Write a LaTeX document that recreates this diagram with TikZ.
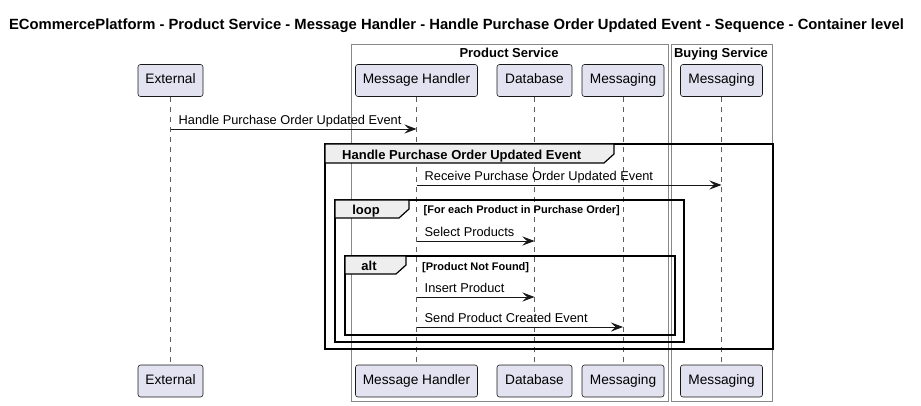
\documentclass[tikz,border=0pt]{standalone}
\usepackage{fontspec}
\setmainfont{Liberation Sans}
\usetikzlibrary{arrows.meta}
\definecolor{partfill}{HTML}{E2E2F0}
\definecolor{partline}{HTML}{181818}
\definecolor{tabfill}{HTML}{EEEEEE}
\definecolor{boxline}{HTML}{888888}
\tikzset{
  part/.style={draw=partline, fill=partfill, line width=0.6pt, rounded corners=2.5pt,
    minimum height=32pt, inner sep=0pt, text height=10pt, text depth=3pt,
    font=\fontsize{13.7}{16}\selectfont},
  life/.style={draw=partline!70, line width=0.6pt, dash pattern=on 5pt off 5pt},
  msg/.style={draw=partline, line width=0.9pt, -{Stealth[length=12pt,width=9pt,inset=4.5pt]}},
  msgtext/.style={anchor=base west, inner sep=0pt, font=\fontsize{12.8}{15}\selectfont},
  frame/.style={draw=black, line width=1.6pt},
  tab/.style={draw=black, line width=1.2pt, fill=tabfill},
  tabtext/.style={inner sep=0pt, anchor=base, font=\bfseries\fontsize{13}{15}\selectfont},
  cond/.style={inner sep=0pt, anchor=base west, font=\bfseries\fontsize{11}{13}\selectfont},
  svcbox/.style={draw=boxline, line width=0.8pt},
  svctext/.style={inner sep=0pt, anchor=base, font=\bfseries\fontsize{13}{15}\selectfont},
}
\begin{document}
\begin{tikzpicture}[x=1pt,y=-1pt]
\useasboundingbox (0,0) rectangle (921,406);
% title
\node[inner sep=0pt, anchor=base, font=\bfseries\fontsize{14.8}{17}\selectfont] (title) at (456.5,30)
  {ECommercePlatform - Product Service - Message Handler - Handle Purchase Order Updated Event - Sequence - Container level};
% service boxes
\draw[svcbox] (351,44) rectangle (668.5,401);
\draw[svcbox] (671,44) rectangle (772.5,401);
\node[svctext] (ps) at (509,58) {Product Service};
\node[svctext] (bs) at (721,58) {Buying Service};
% participants top
\node[part, minimum width=65pt] (ext) at (170.5,80.5) {External};
\node[part, minimum width=122pt] (mh) at (416.5,80.5) {Message Handler};
\node[part, minimum width=75pt] (db) at (534.5,80.5) {Database};
\node[part, minimum width=82pt] (pm) at (623,80.5) {Messaging};
\node[part, minimum width=82pt] (bm) at (721.5,80.5) {Messaging};
% participants bottom
\node[part, minimum width=65pt] (extb) at (170.5,381) {External};
\node[part, minimum width=122pt] (mhb) at (416.5,381) {Message Handler};
\node[part, minimum width=75pt] (dbb) at (534.5,381) {Database};
\node[part, minimum width=82pt] (pmb) at (623,381) {Messaging};
\node[part, minimum width=82pt] (bmb) at (721.5,381) {Messaging};
% lifelines
\foreach \a/\b in {ext/extb, mh/mhb, db/dbb, pm/pmb, bm/bmb}
  \draw[life] (\a.south) -- (\b.north);
% outer group frame
\draw[frame] (325,144) rectangle (773,349);
\draw[tab] (325,144) -- (614,144) -- (614,154) -- (604,163) -- (325,163) -- cycle;
\node[tabtext, anchor=base west] (g1) at (342,159.5) {Handle Purchase Order Updated Event};
% loop frame
\draw[frame] (335,200) rectangle (684,342);
\draw[tab] (335,200) -- (409,200) -- (409,209) -- (399,218) -- (335,218) -- cycle;
\node[tabtext] (g2) at (366,214.5) {loop};
\node[cond] (c2) at (423.5,214) {[For each Product in Purchase Order]};
% alt frame
\draw[frame] (345,256) rectangle (675,335);
\draw[tab] (345,256) -- (406,256) -- (406,265) -- (396,274) -- (345,274) -- cycle;
\node[tabtext] (g3) at (369,270.5) {alt};
\node[cond] (c3) at (422,270) {[Product Not Found]};
% message y levels
\coordinate (y1) at (0,129);
\coordinate (y2) at (0,185);
\coordinate (y3) at (0,241);
\coordinate (y4) at (0,297);
\coordinate (y5) at (0,327);
% messages
\draw[msg] (ext |- y1) -- (mh |- y1);
\node[msgtext] (t1) at ([xshift=8pt,yshift=4.5pt]ext |- y1) {Handle Purchase Order Updated Event};
\draw[msg] (mh |- y2) -- (bm |- y2);
\node[msgtext] (t2) at ([xshift=8pt,yshift=4.5pt]mh |- y2) {Receive Purchase Order Updated Event};
\draw[msg] (mh |- y3) -- (db |- y3);
\node[msgtext] (t3) at ([xshift=8pt,yshift=4.5pt]mh |- y3) {Select Products};
\draw[msg] (mh |- y4) -- (db |- y4);
\node[msgtext] (t4) at ([xshift=8pt,yshift=4.5pt]mh |- y4) {Insert Product};
\draw[msg] (mh |- y5) -- (pm |- y5);
\node[msgtext] (t5) at ([xshift=8pt,yshift=4.5pt]mh |- y5) {Send Product Created Event};
\end{tikzpicture}
\end{document}
